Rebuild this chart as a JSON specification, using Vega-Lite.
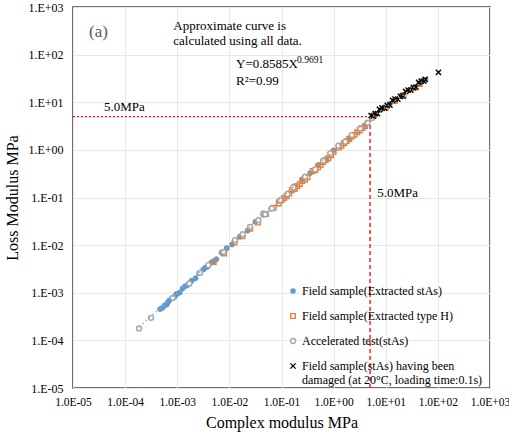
{
  "$schema": "https://vega.github.io/schema/vega-lite/v6.json",
  "width": 417,
  "height": 381,
  "autosize": {"type": "none"},
  "padding": {"left": 73, "top": 7, "right": 19, "bottom": 48},
  "background": "white",
  "config": {
    "view": {"stroke": "#404040", "strokeWidth": 1.5},
    "font": "Liberation Serif",
    "axis": {
      "labelFont": "Liberation Serif", "titleFont": "Liberation Serif",
      "labelColor": "#000000", "titleColor": "#000000", "titleFontWeight": "normal",
      "gridColor": "#E8E8E8", "gridWidth": 1, "domain": false, "ticks": false,
      "labelFontSize": 12, "titleFontSize": 16, "labelOverlap": false, "labelFlush": false
    }
  },
  "encoding": {
    "x": {
      "field": "x", "type": "quantitative",
      "scale": {"type": "log", "domain": [0.00001, 1000], "nice": false},
      "axis": {
        "title": "Complex modulus MPa",
        "values": [0.00001, 0.0001, 0.001, 0.01, 0.1, 1, 10, 100, 1000],
        "labelExpr": "'1.0E' + (round(log(datum.value)/LN10) < 0 ? '-' : '+') + pad('' + abs(round(log(datum.value)/LN10)), 2, '0', 'left')",
        "labelFontSize": 11.5, "labelPadding": 8, "titlePadding": 7
      }
    },
    "y": {
      "field": "y", "type": "quantitative",
      "scale": {"type": "log", "domain": [0.00001, 1000], "nice": false},
      "axis": {
        "title": "Loss Modulus MPa",
        "values": [0.00001, 0.0001, 0.001, 0.01, 0.1, 1, 10, 100, 1000],
        "labelExpr": "'1.E' + (round(log(datum.value)/LN10) < 0 ? '-' : '+') + pad('' + abs(round(log(datum.value)/LN10)), 2, '0', 'left')",
        "labelPadding": 10, "titlePadding": 7
      }
    }
  },
  "layer": [
    {
      "data": {"values": [{"x": 0.00001, "x2": 5, "y": 5}]},
      "mark": {"type": "rule", "color": "#FF0000", "strokeWidth": 1.3, "strokeDash": [2, 2]},
      "encoding": {"x2": {"field": "x2"}}
    },
    {
      "data": {"values": [{"x": 5, "y": 0.00001, "y2": 5}]},
      "mark": {"type": "rule", "color": "#FF0000", "strokeWidth": 1.3, "strokeDash": [4, 3]},
      "encoding": {"y2": {"field": "y2"}}
    },
    {
      "data": {"values": [
        {"x": 4.68e-4, "y": 4.54e-4, "s": "Field sample(Extracted stAs)"},
        {"x": 5.25e-4, "y": 4.83e-4, "s": "Field sample(Extracted stAs)"},
        {"x": 5.75e-4, "y": 5.46e-4, "s": "Field sample(Extracted stAs)"},
        {"x": 6.31e-4, "y": 5.68e-4, "s": "Field sample(Extracted stAs)"},
        {"x": 6.61e-4, "y": 6.28e-4, "s": "Field sample(Extracted stAs)"},
        {"x": 7.08e-4, "y": 6.94e-4, "s": "Field sample(Extracted stAs)"},
        {"x": 7.94e-4, "y": 7.70e-4, "s": "Field sample(Extracted stAs)"},
        {"x": 8.91e-4, "y": 8.20e-4, "s": "Field sample(Extracted stAs)"},
        {"x": 9.55e-4, "y": 9.36e-4, "s": "Field sample(Extracted stAs)"},
        {"x": 1.00e-3, "y": 9.50e-4, "s": "Field sample(Extracted stAs)"},
        {"x": 1.12e-3, "y": 1.01e-3, "s": "Field sample(Extracted stAs)"},
        {"x": 1.26e-3, "y": 1.23e-3, "s": "Field sample(Extracted stAs)"},
        {"x": 1.41e-3, "y": 1.37e-3, "s": "Field sample(Extracted stAs)"},
        {"x": 1.58e-3, "y": 1.45e-3, "s": "Field sample(Extracted stAs)"},
        {"x": 1.74e-3, "y": 1.60e-3, "s": "Field sample(Extracted stAs)"},
        {"x": 1.91e-3, "y": 1.81e-3, "s": "Field sample(Extracted stAs)"},
        {"x": 2.24e-3, "y": 2.02e-3, "s": "Field sample(Extracted stAs)"},
        {"x": 2.63e-3, "y": 2.58e-3, "s": "Field sample(Extracted stAs)"},
        {"x": 3.16e-3, "y": 3.07e-3, "s": "Field sample(Extracted stAs)"},
        {"x": 3.47e-3, "y": 3.37e-3, "s": "Field sample(Extracted stAs)"},
        {"x": 3.80e-3, "y": 3.50e-3, "s": "Field sample(Extracted stAs)"},
        {"x": 4.47e-3, "y": 4.25e-3, "s": "Field sample(Extracted stAs)"},
        {"x": 5.01e-3, "y": 4.61e-3, "s": "Field sample(Extracted stAs)"},
        {"x": 5.62e-3, "y": 5.06e-3, "s": "Field sample(Extracted stAs)"},
        {"x": 7.08e-3, "y": 6.94e-3, "s": "Field sample(Extracted stAs)"},
        {"x": 8.91e-3, "y": 8.64e-3, "s": "Field sample(Extracted stAs)"},
        {"x": 0.0112, "y": 0.0103, "s": "Field sample(Extracted stAs)"},
        {"x": 0.0158, "y": 0.0150, "s": "Field sample(Extracted stAs)"},
        {"x": 0.0224, "y": 0.0202, "s": "Field sample(Extracted stAs)"},
        {"x": 0.0316, "y": 0.0310, "s": "Field sample(Extracted stAs)"},
        {"x": 0.0447, "y": 0.0434, "s": "Field sample(Extracted stAs)"},
        {"x": 0.0631, "y": 0.0581, "s": "Field sample(Extracted stAs)"},
        {"x": 0.0891, "y": 0.0846, "s": "Field sample(Extracted stAs)"},
        {"x": 0.126, "y": 0.113, "s": "Field sample(Extracted stAs)"},
        {"x": 0.178, "y": 0.174, "s": "Field sample(Extracted stAs)"},
        {"x": 0.251, "y": 0.243, "s": "Field sample(Extracted stAs)"},
        {"x": 0.355, "y": 0.327, "s": "Field sample(Extracted stAs)"},
        {"x": 0.501, "y": 0.476, "s": "Field sample(Extracted stAs)"},
        {"x": 0.708, "y": 0.637, "s": "Field sample(Extracted stAs)"},
        {"x": 1.0, "y": 0.98, "s": "Field sample(Extracted stAs)"},
        {"x": 2.0, "y": 1.78, "s": "Field sample(Extracted stAs)"},
        {"x": 4.0, "y": 3.33, "s": "Field sample(Extracted stAs)"},
        {"x": 8.0, "y": 6.88, "s": "Field sample(Extracted stAs)"},
        {"x": 12, "y": 9.35, "s": "Field sample(Extracted stAs)"},
        {"x": 20, "y": 13.8, "s": "Field sample(Extracted stAs)"},
        {"x": 30, "y": 18.7, "s": "Field sample(Extracted stAs)"},
        {"x": 45, "y": 25.4, "s": "Field sample(Extracted stAs)"},
        {"x": 58, "y": 30.0, "s": "Field sample(Extracted stAs)"},
        {"x": 5.01e-3, "y": 4.41e-3, "s": "Field sample(Extracted type H)"},
        {"x": 7.94e-3, "y": 6.67e-3, "s": "Field sample(Extracted type H)"},
        {"x": 0.0126, "y": 0.0113, "s": "Field sample(Extracted type H)"},
        {"x": 0.0178, "y": 0.0153, "s": "Field sample(Extracted type H)"},
        {"x": 0.0251, "y": 0.0221, "s": "Field sample(Extracted type H)"},
        {"x": 0.0355, "y": 0.0298, "s": "Field sample(Extracted type H)"},
        {"x": 0.0501, "y": 0.0451, "s": "Field sample(Extracted type H)"},
        {"x": 0.0708, "y": 0.0609, "s": "Field sample(Extracted type H)"},
        {"x": 0.0891, "y": 0.0752, "s": "Field sample(Extracted type H)"},
        {"x": 0.1, "y": 0.088, "s": "Field sample(Extracted type H)"},
        {"x": 0.112, "y": 0.098, "s": "Field sample(Extracted type H)"},
        {"x": 0.126, "y": 0.106, "s": "Field sample(Extracted type H)"},
        {"x": 0.141, "y": 0.121, "s": "Field sample(Extracted type H)"},
        {"x": 0.158, "y": 0.142, "s": "Field sample(Extracted type H)"},
        {"x": 0.178, "y": 0.151, "s": "Field sample(Extracted type H)"},
        {"x": 0.2, "y": 0.172, "s": "Field sample(Extracted type H)"},
        {"x": 0.224, "y": 0.191, "s": "Field sample(Extracted type H)"},
        {"x": 0.251, "y": 0.221, "s": "Field sample(Extracted type H)"},
        {"x": 0.282, "y": 0.24, "s": "Field sample(Extracted type H)"},
        {"x": 0.316, "y": 0.265, "s": "Field sample(Extracted type H)"},
        {"x": 0.398, "y": 0.358, "s": "Field sample(Extracted type H)"},
        {"x": 0.447, "y": 0.38, "s": "Field sample(Extracted type H)"},
        {"x": 0.501, "y": 0.431, "s": "Field sample(Extracted type H)"},
        {"x": 0.562, "y": 0.48, "s": "Field sample(Extracted type H)"},
        {"x": 0.631, "y": 0.555, "s": "Field sample(Extracted type H)"},
        {"x": 0.708, "y": 0.61, "s": "Field sample(Extracted type H)"},
        {"x": 0.794, "y": 0.667, "s": "Field sample(Extracted type H)"},
        {"x": 0.891, "y": 0.77, "s": "Field sample(Extracted type H)"},
        {"x": 1.0, "y": 0.9, "s": "Field sample(Extracted type H)"},
        {"x": 1.26, "y": 1.117, "s": "Field sample(Extracted type H)"},
        {"x": 1.41, "y": 1.22, "s": "Field sample(Extracted type H)"},
        {"x": 1.58, "y": 1.374, "s": "Field sample(Extracted type H)"},
        {"x": 1.78, "y": 1.52, "s": "Field sample(Extracted type H)"},
        {"x": 2.0, "y": 1.69, "s": "Field sample(Extracted type H)"},
        {"x": 2.24, "y": 1.9, "s": "Field sample(Extracted type H)"},
        {"x": 2.51, "y": 2.08, "s": "Field sample(Extracted type H)"},
        {"x": 2.82, "y": 2.35, "s": "Field sample(Extracted type H)"},
        {"x": 3.16, "y": 2.56, "s": "Field sample(Extracted type H)"},
        {"x": 3.55, "y": 2.88, "s": "Field sample(Extracted type H)"},
        {"x": 3.98, "y": 3.15, "s": "Field sample(Extracted type H)"},
        {"x": 6, "y": 5.3, "s": "Field sample(Extracted type H)"},
        {"x": 10, "y": 7.78, "s": "Field sample(Extracted type H)"},
        {"x": 15, "y": 10.6, "s": "Field sample(Extracted type H)"},
        {"x": 22, "y": 14.1, "s": "Field sample(Extracted type H)"},
        {"x": 35, "y": 20.0, "s": "Field sample(Extracted type H)"},
        {"x": 45, "y": 24.2, "s": "Field sample(Extracted type H)"},
        {"x": 1.85e-4, "y": 1.78e-4, "s": "Accelerated test(stAs)"},
        {"x": 3.14e-4, "y": 2.97e-4, "s": "Accelerated test(stAs)"},
        {"x": 8.20e-4, "y": 7.82e-4, "s": "Accelerated test(stAs)"},
        {"x": 1.71e-3, "y": 1.57e-3, "s": "Accelerated test(stAs)"},
        {"x": 2.74e-3, "y": 2.62e-3, "s": "Accelerated test(stAs)"},
        {"x": 3.95e-3, "y": 3.80e-3, "s": "Accelerated test(stAs)"},
        {"x": 7.67e-3, "y": 7.23e-3, "s": "Accelerated test(stAs)"},
        {"x": 0.01285, "y": 0.01274, "s": "Accelerated test(stAs)"},
        {"x": 0.01807, "y": 0.01702, "s": "Accelerated test(stAs)"},
        {"x": 0.02494, "y": 0.02421, "s": "Accelerated test(stAs)"},
        {"x": 0.0360, "y": 0.0335, "s": "Accelerated test(stAs)"},
        {"x": 0.0450, "y": 0.0463, "s": "Accelerated test(stAs)"},
        {"x": 0.0484, "y": 0.0442, "s": "Accelerated test(stAs)"},
        {"x": 0.0652, "y": 0.0590, "s": "Accelerated test(stAs)"},
        {"x": 0.0940, "y": 0.0881, "s": "Accelerated test(stAs)"},
        {"x": 0.1297, "y": 0.1178, "s": "Accelerated test(stAs)"},
        {"x": 0.169, "y": 0.163, "s": "Accelerated test(stAs)"},
        {"x": 0.284, "y": 0.272, "s": "Accelerated test(stAs)"},
        {"x": 0.442, "y": 0.389, "s": "Accelerated test(stAs)"},
        {"x": 0.63, "y": 0.59, "s": "Accelerated test(stAs)"},
        {"x": 0.857, "y": 0.843, "s": "Accelerated test(stAs)"},
        {"x": 1.236, "y": 1.219, "s": "Accelerated test(stAs)"},
        {"x": 1.663, "y": 1.479, "s": "Accelerated test(stAs)"},
        {"x": 2.235, "y": 2.047, "s": "Accelerated test(stAs)"},
        {"x": 3.228, "y": 2.831, "s": "Accelerated test(stAs)"},
        {"x": 4.457, "y": 3.707, "s": "Accelerated test(stAs)"},
        {"x": 5.48, "y": 4.66, "s": "Accelerated test(stAs)"},
        {"x": 5.25, "y": 5.25, "s": "Field sample(stAs) having been damaged (at 20°C, loading time:0.1s)"},
        {"x": 5.75, "y": 5.13, "s": "Field sample(stAs) having been damaged (at 20°C, loading time:0.1s)"},
        {"x": 6.31, "y": 5.75, "s": "Field sample(stAs) having been damaged (at 20°C, loading time:0.1s)"},
        {"x": 6.92, "y": 5.77, "s": "Field sample(stAs) having been damaged (at 20°C, loading time:0.1s)"},
        {"x": 7.59, "y": 7.10, "s": "Field sample(stAs) having been damaged (at 20°C, loading time:0.1s)"},
        {"x": 8.51, "y": 7.57, "s": "Field sample(stAs) having been damaged (at 20°C, loading time:0.1s)"},
        {"x": 9.55, "y": 7.52, "s": "Field sample(stAs) having been damaged (at 20°C, loading time:0.1s)"},
        {"x": 10.7, "y": 8.59, "s": "Field sample(stAs) having been damaged (at 20°C, loading time:0.1s)"},
        {"x": 12.0, "y": 8.75, "s": "Field sample(stAs) having been damaged (at 20°C, loading time:0.1s)"},
        {"x": 13.5, "y": 10.96, "s": "Field sample(stAs) having been damaged (at 20°C, loading time:0.1s)"},
        {"x": 15.1, "y": 11.67, "s": "Field sample(stAs) having been damaged (at 20°C, loading time:0.1s)"},
        {"x": 17.0, "y": 11.61, "s": "Field sample(stAs) having been damaged (at 20°C, loading time:0.1s)"},
        {"x": 19.1, "y": 13.27, "s": "Field sample(stAs) having been damaged (at 20°C, loading time:0.1s)"},
        {"x": 21.4, "y": 13.52, "s": "Field sample(stAs) having been damaged (at 20°C, loading time:0.1s)"},
        {"x": 24.0, "y": 16.9, "s": "Field sample(stAs) having been damaged (at 20°C, loading time:0.1s)"},
        {"x": 26.9, "y": 18.0, "s": "Field sample(stAs) having been damaged (at 20°C, loading time:0.1s)"},
        {"x": 30.2, "y": 17.9, "s": "Field sample(stAs) having been damaged (at 20°C, loading time:0.1s)"},
        {"x": 33.9, "y": 20.5, "s": "Field sample(stAs) having been damaged (at 20°C, loading time:0.1s)"},
        {"x": 38.0, "y": 20.8, "s": "Field sample(stAs) having been damaged (at 20°C, loading time:0.1s)"},
        {"x": 42.7, "y": 26.1, "s": "Field sample(stAs) having been damaged (at 20°C, loading time:0.1s)"},
        {"x": 47.9, "y": 27.9, "s": "Field sample(stAs) having been damaged (at 20°C, loading time:0.1s)"},
        {"x": 53.7, "y": 27.7, "s": "Field sample(stAs) having been damaged (at 20°C, loading time:0.1s)"},
        {"x": 57, "y": 30.3, "s": "Field sample(stAs) having been damaged (at 20°C, loading time:0.1s)"},
        {"x": 102.6, "y": 42.5, "s": "Field sample(stAs) having been damaged (at 20°C, loading time:0.1s)"}
      ]},
      "mark": {"type": "point", "opacity": 1, "strokeWidth": 1.4},
      "encoding": {
        "shape": {
          "field": "s", "type": "nominal",
          "scale": {
            "domain": ["Field sample(Extracted stAs)", "Field sample(Extracted type H)", "Accelerated test(stAs)", "Field sample(stAs) having been damaged (at 20°C, loading time:0.1s)"],
            "range": ["circle", "square", "circle", "M-1,-1L1,1M-1,1L1,-1"]
          },
          "legend": {
            "title": null, "orient": "none", "legendX": 214, "legendY": 278,
            "rowPadding": 13, "padding": 0, "labelOffset": 3,
            "labelFont": "Liberation Serif", "labelFontSize": 12, "labelColor": "#000000",
            "labelLimit": 400, "symbolStrokeWidth": 1.3,
            "labelExpr": "datum.label == 'Field sample(stAs) having been damaged (at 20°C, loading time:0.1s)' ? ['Field sample(stAs) having been', '\u2002damaged (at 20°C, loading time:0.1s)'] : datum.label"
          }
        },
        "fill": {
          "field": "s", "type": "nominal",
          "scale": {
            "domain": ["Field sample(Extracted stAs)", "Field sample(Extracted type H)", "Accelerated test(stAs)", "Field sample(stAs) having been damaged (at 20°C, loading time:0.1s)"],
            "range": ["#5B9BD5", "transparent", "#FFFFFF", "transparent"]
          }
        },
        "stroke": {
          "field": "s", "type": "nominal",
          "scale": {
            "domain": ["Field sample(Extracted stAs)", "Field sample(Extracted type H)", "Accelerated test(stAs)", "Field sample(stAs) having been damaged (at 20°C, loading time:0.1s)"],
            "range": ["#5B9BD5", "#ED7D31", "#A5A5A5", "#000000"]
          }
        },
        "size": {
          "field": "s", "type": "nominal",
          "scale": {
            "domain": ["Field sample(Extracted stAs)", "Field sample(Extracted type H)", "Accelerated test(stAs)", "Field sample(stAs) having been damaged (at 20°C, loading time:0.1s)"],
            "range": [18, 28, 75, 60]
          }
        }
      }
    },
    {
      "data": {"values": [
        {"x": 1.85e-4, "y": 1.9e-4},
        {"x": 0.857, "y": 0.83},
        {"x": 5, "y": 4.6},
        {"x": 57, "y": 30}
      ]},
      "mark": {"type": "line", "color": "#A5A5A5", "strokeWidth": 1.3, "strokeDash": [1.5, 3]}
    },
    {
      "data": {"values": [{"x": 2.03e-5, "y": 298, "t": "(a)"}]},
      "mark": {"type": "text", "align": "left", "baseline": "middle", "fontSize": 17, "color": "#595959", "font": "Liberation Serif"},
      "encoding": {"text": {"field": "t"}}
    },
    {
      "data": {"values": [{"x": 3.94e-5, "y": 7.9, "t": "5.0MPa"}, {"x": 6.84, "y": 0.122, "t": "5.0MPa"}]},
      "mark": {"type": "text", "align": "left", "baseline": "middle", "fontSize": 13, "color": "#000000", "font": "Liberation Serif"},
      "encoding": {"text": {"field": "t"}}
    },
    {
      "data": {"values": [
        {"x": 8.41e-4, "y": 399, "t": "Approximate curve is"},
        {"x": 8.41e-4, "y": 193, "t": "calculated using all data."},
        {"x": 0.01346, "y": 63.5, "t": "Y=0.8585X"},
        {"x": 0.01346, "y": 27.9, "t": "R²=0.99"}
      ]},
      "mark": {"type": "text", "align": "left", "baseline": "middle", "fontSize": 13, "color": "#000000", "font": "Liberation Serif"},
      "encoding": {"text": {"field": "t"}}
    },
    {
      "data": {"values": [{"x": 0.199, "y": 77, "t": "0.9691"}]},
      "mark": {"type": "text", "align": "left", "baseline": "middle", "fontSize": 9.5, "color": "#000000", "font": "Liberation Serif"},
      "encoding": {"text": {"field": "t"}}
    }
  ]
}
